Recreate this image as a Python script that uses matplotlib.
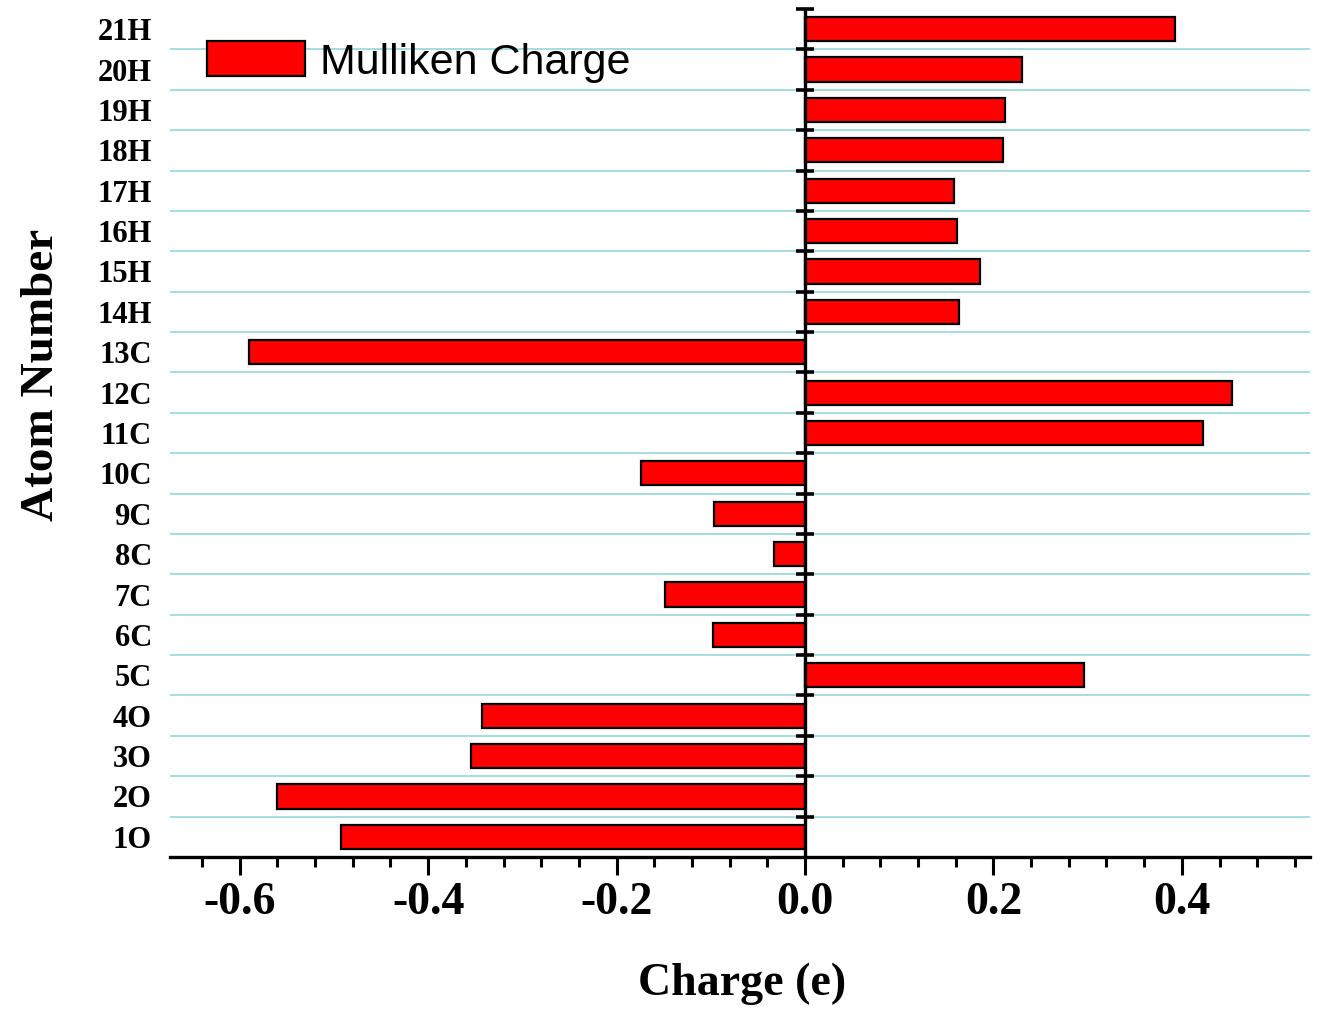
import numpy as np
import matplotlib
matplotlib.use("Agg")
import matplotlib.pyplot as plt
from matplotlib.ticker import MultipleLocator

plt.rcParams['axes.unicode_minus'] = False
plt.rcParams['font.family'] = 'Liberation Serif'

# data
atoms = ['1O', '2O', '3O', '4O', '5C', '6C', '7C', '8C', '9C', '10C', '11C',
         '12C', '13C', '14H', '15H', '16H', '17H', '18H', '19H', '20H', '21H']
charges = [-0.493, -0.560, -0.355, -0.343, 0.296, -0.098, -0.149, -0.033,
           -0.097, -0.174, 0.422, 0.453, -0.590, 0.163, 0.186, 0.161, 0.158,
           0.210, 0.212, 0.230, 0.393]
series_name = 'Mulliken Charge'

W, H = 1328, 1031
fig = plt.figure(figsize=(W / 100, H / 100), dpi=100)
ax = fig.add_axes([170 / W, 1 - 857 / H, 1140 / W, 848 / H])

pos = np.arange(1, len(atoms) + 1)
half = pos + 0.5

# grid lines between the categories
ax.set_yticks(half[:-1], minor=True)
ax.grid(which='minor', axis='y', color='#a3dede', lw=1.4)
ax.set_axisbelow(True)

ax.barh(pos, charges, height=0.6, color='#ff0000', edgecolor='black',
        lw=1.6, label=series_name, zorder=3)

ax.set_xlim(-0.674, 0.536)
ax.set_ylim(0.5, len(atoms) + 0.5)

ax.set_yticks(pos)
ax.set_yticklabels(atoms)
ax.tick_params(axis='y', which='both', length=0, pad=13, labelsize=22)
for t in ax.get_yticklabels():
    t.set_fontweight('bold')

ax.xaxis.set_major_locator(MultipleLocator(0.2))
ax.xaxis.set_minor_locator(MultipleLocator(0.04))
ax.tick_params(axis='x', which='major', direction='out', length=13, width=2.2,
               pad=5, labelsize=33)
ax.tick_params(axis='x', which='minor', direction='out', length=7, width=2.2)
for t in ax.get_xticklabels():
    t.set_fontweight('bold')

for s in ['left', 'right', 'top']:
    ax.spines[s].set_visible(False)
ax.spines['bottom'].set_linewidth(2.4)

# vertical axis through zero with cross ticks
zax = ax.secondary_yaxis(0, transform=ax.transData)
zax.set_zorder(5)
zax.set_yticks(half)
zax.tick_params(direction='inout', length=13, width=2.6, labelleft=False)
zax.spines['left'].set_linewidth(2.4)

ax.set_xlabel('Charge (e)', fontsize=33, fontweight='bold')
ax.xaxis.set_label_coords(0.502, -0.124)
ax.set_ylabel('Atom Number', fontsize=34, fontweight='bold')
ax.yaxis.set_label_coords(-0.094, 0.568)

ax.legend(loc='center left', bbox_to_anchor=(207 / W, 1 - 62 / H),
          bbox_transform=fig.transFigure, frameon=False, borderpad=0,
          borderaxespad=0, handlelength=2.27, handleheight=0.88,
          handletextpad=0.35, prop={'family': 'Liberation Sans', 'size': 31})

fig.savefig('out.png', dpi=100)
